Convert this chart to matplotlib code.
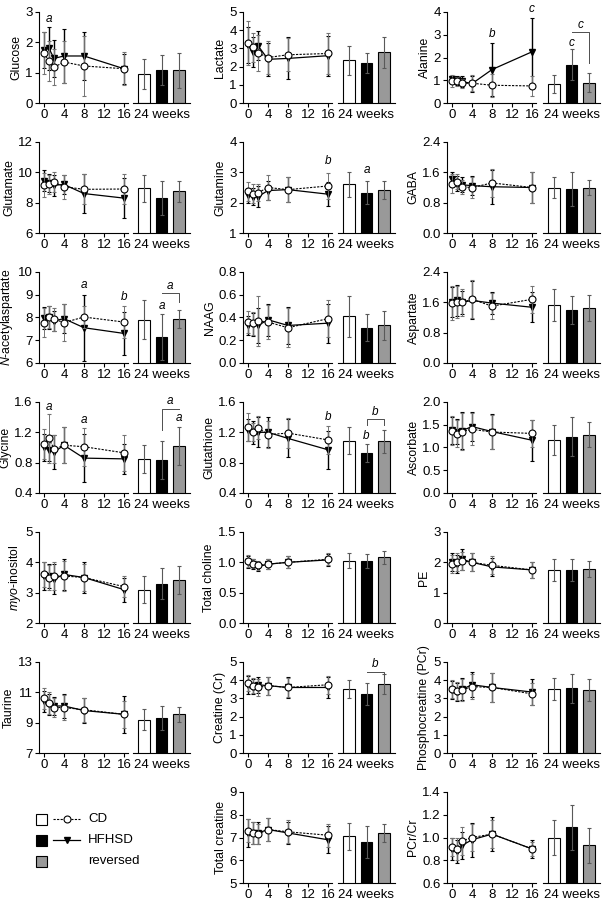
import matplotlib.pyplot as plt
from matplotlib.patches import Rectangle

plt.rcParams['font.family'] = ['Liberation Sans', 'DejaVu Sans']
plt.rcParams['mathtext.fontset'] = 'custom'
plt.rcParams['mathtext.rm'] = 'Liberation Sans'
plt.rcParams['mathtext.it'] = 'Liberation Sans:italic'
plt.rcParams['font.size'] = 9

weeks = [0, 1, 2, 4, 8, 16]
groups = ['CD', 'HFHSD', 'reversed']

names = ['Glucose', 'Lactate', 'Alanine',
         'Glutamate', 'Glutamine', 'GABA',
         r'$\it{N}$-acetylaspartate', 'NAAG', 'Aspartate',
         'Glycine', 'Glutathione', 'Ascorbate',
         r'$\it{myo}$-inositol', 'Total choline', 'PE',
         'Taurine', 'Creatine (Cr)', 'Phosphocreatine (PCr)',
         'Total creatine', 'PCr/Cr']

# (min, max, tick step)
yranges = [(0, 3, 1), (0, 5, 1), (0, 4, 1),
           (6, 12, 2), (1, 4, 1), (0, 2.4, 0.8),
           (6, 10, 1), (0, 0.8, 0.2), (0, 2.4, 0.8),
           (0.4, 1.6, 0.4), (0.4, 1.6, 0.4), (0, 2.0, 0.5),
           (2, 5, 1), (0, 1.5, 0.5), (0, 3, 1),
           (7, 13, 2), (0, 5, 1), (0, 5, 1),
           (5, 9, 1), (0.6, 1.4, 0.2)]

cd_mean = [[1.65, 1.38, 1.18, 1.35, 1.22, 1.13],
           [3.3, 3.05, 2.75, 2.5, 2.65, 2.72],
           [0.97, 0.95, 0.87, 0.87, 0.78, 0.75],
           [9.15, 9.2, 9.35, 9.05, 8.88, 8.9],
           [2.37, 2.3, 2.33, 2.5, 2.43, 2.55],
           [1.3, 1.35, 1.22, 1.2, 1.32, 1.2],
           [7.78, 8.02, 7.92, 7.78, 8.02, 7.8],
           [0.36, 0.35, 0.37, 0.36, 0.31, 0.39],
           [1.58, 1.6, 1.6, 1.68, 1.5, 1.68],
           [1.05, 1.12, 0.98, 1.03, 1.01, 0.93],
           [1.27, 1.2, 1.26, 1.17, 1.19, 1.1],
           [1.37, 1.3, 1.35, 1.4, 1.34, 1.31],
           [3.6, 3.5, 3.55, 3.55, 3.5, 3.2],
           [1.02, 0.98, 0.95, 0.97, 1.0, 1.05],
           [1.95, 2.0, 2.05, 2.0, 1.9, 1.75],
           [10.6, 10.3, 10.0, 10.0, 9.85, 9.55],
           [3.85, 3.7, 3.6, 3.7, 3.6, 3.75],
           [3.5, 3.4, 3.45, 3.65, 3.6, 3.25],
           [7.3, 7.2, 7.15, 7.35, 7.25, 7.1],
           [0.92, 0.9, 0.97, 1.0, 1.03, 0.9]]

cd_sd = [[0.7, 0.65, 0.6, 0.7, 1.0, 0.55],
         [1.2, 0.8, 1.0, 0.9, 0.9, 1.1],
         [0.25, 0.2, 0.2, 0.35, 0.5, 0.45],
         [0.8, 0.6, 0.65, 0.8, 1.0, 1.0],
         [0.3, 0.3, 0.28, 0.4, 0.42, 0.42],
         [0.25, 0.2, 0.18, 0.28, 0.38, 0.4],
         [0.65, 0.5, 0.5, 0.8, 0.5, 0.7],
         [0.1, 0.1, 0.22, 0.15, 0.17, 0.16],
         [0.45, 0.42, 0.35, 0.5, 0.35, 0.35],
         [0.2, 0.32, 0.18, 0.24, 0.25, 0.24],
         [0.18, 0.12, 0.15, 0.18, 0.2, 0.18],
         [0.32, 0.3, 0.4, 0.35, 0.38, 0.3],
         [0.4, 0.4, 0.45, 0.5, 0.45, 0.35],
         [0.1, 0.08, 0.08, 0.08, 0.1, 0.1],
         [0.3, 0.3, 0.3, 0.3, 0.3, 0.25],
         [0.7, 0.7, 0.6, 0.8, 0.8, 0.9],
         [0.45, 0.4, 0.45, 0.5, 0.5, 0.5],
         [0.5, 0.5, 0.6, 0.7, 0.8, 0.6],
         [0.5, 0.5, 0.45, 0.5, 0.5, 0.5],
         [0.08, 0.1, 0.12, 0.12, 0.12, 0.06]]

hf_mean = [[1.75, 1.8, 1.47, 1.55, 1.55, 1.13],
           [3.2, 2.8, 3.15, 2.4, 2.45, 2.6],
           [1.05, 1.0, 0.95, 0.85, 1.47, 2.25],
           [9.45, 9.3, 9.15, 9.2, 8.6, 8.3],
           [2.25, 2.2, 2.2, 2.4, 2.43, 2.28],
           [1.42, 1.3, 1.27, 1.25, 1.22, 1.2],
           [7.98, 8.0, 7.85, 7.95, 7.55, 7.3],
           [0.33, 0.34, 0.33, 0.38, 0.33, 0.35],
           [1.6, 1.65, 1.6, 1.65, 1.58, 1.47],
           [1.0, 0.97, 0.94, 1.03, 0.86, 0.85],
           [1.23, 1.2, 1.2, 1.2, 1.12, 0.97],
           [1.38, 1.35, 1.37, 1.46, 1.35, 1.16],
           [3.55, 3.55, 3.45, 3.6, 3.5, 3.1],
           [1.0, 0.97, 0.93, 0.97, 1.0, 1.04],
           [2.0, 1.95, 2.1, 2.0, 1.85, 1.75],
           [10.4, 10.2, 10.1, 10.1, 9.8, 9.55],
           [3.75, 3.65, 3.75, 3.7, 3.6, 3.6],
           [3.45, 3.35, 3.5, 3.75, 3.6, 3.35],
           [7.2, 7.2, 7.2, 7.35, 7.2, 6.9],
           [0.9, 0.88, 0.93, 0.98, 1.03, 0.9]]

hf_sd = [[0.6, 0.7, 0.6, 0.9, 0.8, 0.5],
         [1.0, 0.8, 0.8, 0.9, 1.15, 1.1],
         [0.15, 0.2, 0.25, 0.35, 1.15, 1.5],
         [0.7, 0.6, 0.7, 0.6, 1.3, 1.3],
         [0.25, 0.28, 0.35, 0.3, 0.4, 0.4],
         [0.2, 0.2, 0.2, 0.25, 0.45, 0.4],
         [0.5, 0.5, 0.45, 0.65, 1.45, 0.95],
         [0.08, 0.1, 0.15, 0.14, 0.16, 0.17],
         [0.4, 0.4, 0.3, 0.5, 0.3, 0.4],
         [0.18, 0.15, 0.22, 0.24, 0.32, 0.2],
         [0.15, 0.15, 0.2, 0.2, 0.25, 0.25],
         [0.3, 0.28, 0.4, 0.32, 0.38, 0.45],
         [0.45, 0.4, 0.5, 0.5, 0.5, 0.4],
         [0.1, 0.08, 0.08, 0.08, 0.1, 0.1],
         [0.3, 0.3, 0.35, 0.3, 0.3, 0.25],
         [0.7, 0.7, 0.6, 0.8, 0.8, 1.2],
         [0.5, 0.4, 0.45, 0.5, 0.6, 0.6],
         [0.5, 0.5, 0.6, 0.7, 0.8, 0.7],
         [0.6, 0.5, 0.5, 0.5, 0.5, 0.6],
         [0.1, 0.1, 0.12, 0.15, 0.15, 0.08]]

# 24 weeks: CD, HFHSD, reversed
bar_mean = [[0.95, 1.08, 1.08], [2.35, 2.2, 2.8], [0.85, 1.68, 0.9],
            [8.95, 8.3, 8.75], [2.6, 2.33, 2.42], [1.2, 1.15, 1.2],
            [7.9, 7.15, 7.95], [0.41, 0.31, 0.33], [1.52, 1.4, 1.45],
            [0.85, 0.84, 1.02], [1.09, 0.93, 1.08], [1.17, 1.24, 1.28],
            [3.1, 3.3, 3.42], [1.03, 1.02, 1.08], [1.75, 1.75, 1.78],
            [9.2, 9.3, 9.55], [3.5, 3.25, 3.8], [3.5, 3.55, 3.45],
            [7.05, 6.8, 7.2], [1.0, 1.09, 0.93]]
bar_sd = [[0.5, 0.5, 0.58], [0.8, 0.55, 0.85], [0.4, 0.68, 0.4],
          [0.9, 1.1, 0.7], [0.4, 0.38, 0.3], [0.28, 0.45, 0.2],
          [0.85, 1.0, 0.4], [0.18, 0.12, 0.13], [0.42, 0.38, 0.35],
          [0.18, 0.25, 0.25], [0.18, 0.12, 0.15], [0.33, 0.42, 0.28],
          [0.45, 0.5, 0.45], [0.12, 0.12, 0.1], [0.35, 0.35, 0.25],
          [0.7, 0.8, 0.5], [0.5, 0.6, 0.55], [0.6, 0.8, 0.6],
          [0.6, 0.7, 0.4], [0.15, 0.2, 0.15]]

# significance letters: (panel, week, y, letter)
line_marks = [(0, 1, 2.77, 'a'), (2, 8, 3.05, 'b'), (2, 16, 4.15, 'c'),
              (4, 16, 3.36, 'b'), (6, 8, 9.43, 'a'), (6, 16, 8.9, 'b'),
              (9, 1, 1.53, 'a'), (9, 8, 1.36, 'a'), (10, 16, 1.4, 'b')]
# (panel, bar index, y, letter)
bar_marks = [(2, 1, 2.65, 'c'), (4, 1, 3.09, 'a'), (6, 1, 8.5, 'a'),
             (9, 2, 1.39, 'a'), (10, 1, 1.15, 'b')]
# brackets HFHSD vs reversed: (panel, y, left end, right end, letter)
brackets = [(2, 3.1, 3.1, 1.78, 'c'), (6, 9.06, 9.06, 8.69, 'a'),
            (9, 1.51, 1.23, 1.51, 'a'), (10, 1.37, 1.3, 1.3, 'b'),
            (16, 4.44, 4.44, 3.95, 'b')]

slots = [(r, c) for r in range(6) for c in range(3)] + [(6, 1), (6, 2)]

W, H = 612, 907
fig = plt.figure(figsize=(W / 100, H / 100), dpi=100)


def px_axes(left, top, w, h):
    return fig.add_axes([left / W, 1 - (top + h) / H, w / W, h / H])


line_left = [39, 243, 447]
bar_left = [133, 338, 543]
bar_colors = ['white', 'black', '0.6']

for i, name in enumerate(names):
    r, c = slots[i]
    top = 12 + 130 * r
    lo, hi, step = yranges[i]
    nt = int(round((hi - lo) / step)) + 1
    yt = [lo + k * step for k in range(nt)]
    fmt = '{:.0f}' if step >= 1 else '{:.1f}'

    ax = px_axes(line_left[c], top, 89, 91)
    ax.errorbar(weeks, hf_mean[i], yerr=hf_sd[i], fmt='v-', color='black',
                ms=4, lw=0.9, elinewidth=1.0, ecolor='black', capsize=1.3,
                capthick=0.8, zorder=2)
    ax.errorbar(weeks, cd_mean[i], yerr=cd_sd[i], fmt='o', ls=(0, (2, 1.2)),
                color='black', mfc='white', mec='black', mew=0.8, ms=5,
                lw=0.8, elinewidth=0.7, ecolor='0.45', capsize=1.3,
                capthick=0.7, zorder=3)
    ax.set_xlim(-1, 16.8)
    ax.set_ylim(lo, hi)
    ax.set_xticks([0, 4, 8, 12, 16])
    ax.set_yticks(yt)
    ax.set_yticklabels([fmt.format(v) for v in yt])
    for s in ['top', 'right']:
        ax.spines[s].set_visible(False)
    for s in ['left', 'bottom']:
        ax.spines[s].set_linewidth(0.8)
    ax.tick_params(length=3, width=0.8, pad=1.5, labelsize=9.5)
    ax.set_ylabel(name, fontsize=8.8, labelpad=2)
    for p, wk, y, txt in line_marks:
        if p == i:
            ax.text(wk, y, txt, style='italic', ha='center', va='center',
                    fontsize=8.5, clip_on=False)

    bx = px_axes(bar_left[c], top, 57, 91)
    bx.bar(range(3), bar_mean[i], width=0.68, color=bar_colors,
           edgecolor='black', linewidth=0.8, yerr=bar_sd[i], ecolor='0.35',
           capsize=1.5, error_kw={'elinewidth': 0.8, 'capthick': 0.8})
    bx.set_xlim(-0.62, 2.62)
    bx.set_ylim(lo, hi)
    bx.set_yticks([])
    bx.set_xticks([1])
    bx.set_xticklabels(['24 weeks'])
    bx.tick_params(axis='x', length=0, pad=4, labelsize=9.5)
    for s in ['top', 'right', 'left']:
        bx.spines[s].set_visible(False)
    bx.spines['bottom'].set_linewidth(0.8)
    for p, b, y, txt in bar_marks:
        if p == i:
            bx.text(b, y, txt, style='italic', ha='center', va='center',
                    fontsize=8.5, clip_on=False)
    for p, y, yl, yr, txt in brackets:
        if p == i:
            bx.plot([1, 1, 2, 2], [yl, y, y, yr], color='0.3', lw=0.7,
                    clip_on=False)
            bx.text(1.5, y + (hi - lo) * 0.085, txt, style='italic',
                    ha='center', va='center', fontsize=8.5, clip_on=False)

# legend drawn by hand in a blank axes (pixel-like units)
lg = px_axes(30, 806, 110, 66)
lg.set_xlim(0, 110)
lg.set_ylim(66, 0)
lg.axis('off')
for k, g in enumerate(groups):
    yc = 13 + 21 * k
    lg.add_patch(Rectangle((6, yc - 5.5), 11, 11, facecolor=bar_colors[k],
                           edgecolor='black', lw=0.8))
    if k == 0:
        lg.plot([23, 50], [yc, yc], color='black', ls=(0, (2, 1.2)), lw=0.8)
        lg.plot([36.5], [yc], 'o', mfc='white', mec='black', mew=0.8, ms=5)
    elif k == 1:
        lg.plot([23, 50], [yc, yc], color='black', lw=0.9)
        lg.plot([36.5], [yc], 'v', color='black', ms=4)
    lg.text(58, yc, g, va='center', ha='left', fontsize=9.5)

fig.savefig('out.png', dpi=100)
